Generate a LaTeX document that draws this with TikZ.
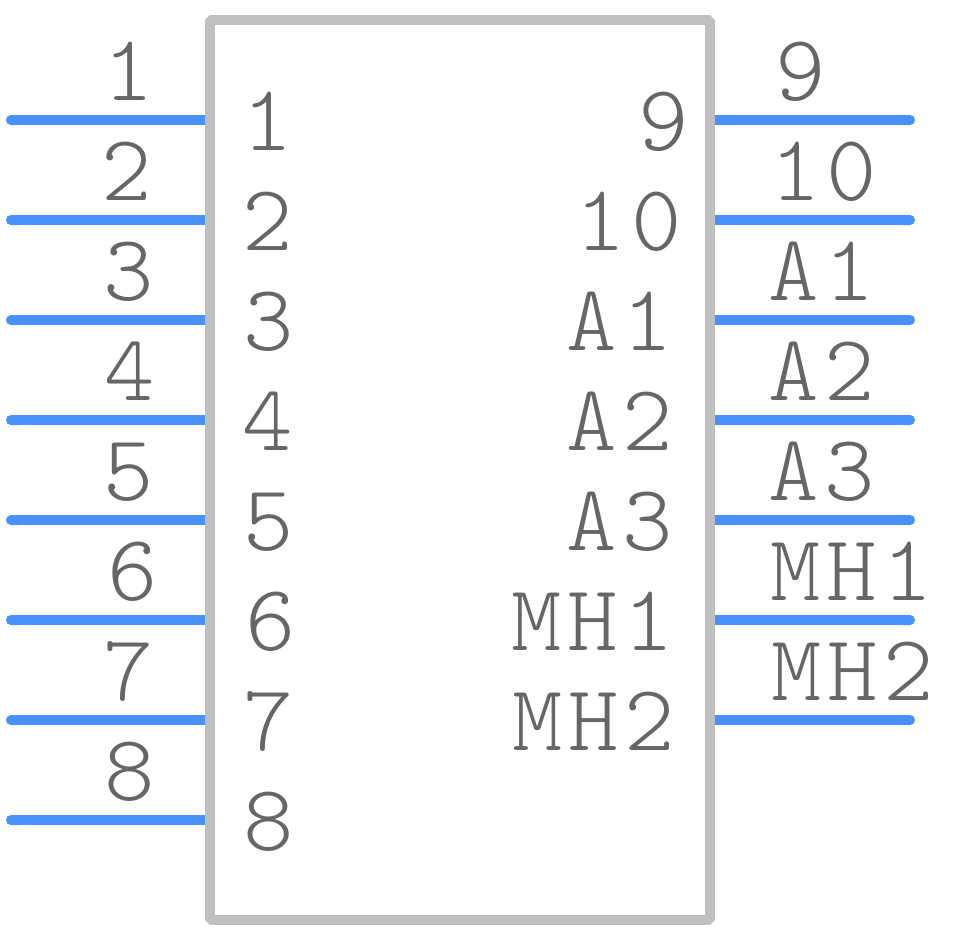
\documentclass[tikz,border=0pt]{standalone}
\usepackage{fontspec}
\setmonofont[FakeStretch=1.02,LetterSpace=6]{Latin Modern Mono Light}
\usetikzlibrary{positioning,arrows.meta}
\definecolor{pinblue}{HTML}{4891FD}
\definecolor{bodygray}{HTML}{BFBFBF}
\definecolor{textgray}{HTML}{666666}

\begin{document}
\begin{tikzpicture}
  [
    x=1pt, y=-1pt,
    body/.style={draw=bodygray, rectangle, line width=10pt, line join=bevel, minimum width=500pt, minimum height=900pt, inner sep=0pt},
    pin/.style={draw=pinblue, line width=10pt, {Round Cap[]}-},
    lab/.style={font=\fontsize{94}{94}\selectfont\ttfamily, text=textgray, inner sep=0pt, anchor=base, xshift=1pt},
  ]
  \useasboundingbox (0,0) rectangle (965,930);
  \node (box) [body] at (460,470) {};

  % left side pins
  \coordinate (p1) at (6,120);
  \coordinate (p2) at (6,220);
  \coordinate (p3) at (6,320);
  \coordinate (p4) at (6,420);
  \coordinate (p5) at (6,520);
  \coordinate (p6) at (6,620);
  \coordinate (p7) at (6,720);
  \coordinate (p8) at (6,820);

  % right side pins
  \coordinate (p9) at (915,120);
  \coordinate (p10) at (915,220);
  \coordinate (pa1) at (915,320);
  \coordinate (pa2) at (915,420);
  \coordinate (pa3) at (915,520);
  \coordinate (pm1) at (915,620);
  \coordinate (pm2) at (915,720);

  \draw [pin] (p1) -- (p1 -| box.west);
  \draw [pin] (p2) -- (p2 -| box.west);
  \draw [pin] (p3) -- (p3 -| box.west);
  \draw [pin] (p4) -- (p4 -| box.west);
  \draw [pin] (p5) -- (p5 -| box.west);
  \draw [pin] (p6) -- (p6 -| box.west);
  \draw [pin] (p7) -- (p7 -| box.west);
  \draw [pin] (p8) -- (p8 -| box.west);

  \draw [pin] (p9) -- (p9 -| box.east);
  \draw [pin] (p10) -- (p10 -| box.east);
  \draw [pin] (pa1) -- (pa1 -| box.east);
  \draw [pin] (pa2) -- (pa2 -| box.east);
  \draw [pin] (pa3) -- (pa3 -| box.east);
  \draw [pin] (pm1) -- (pm1 -| box.east);
  \draw [pin] (pm2) -- (pm2 -| box.east);

  % numbers above the pins
  \node (o1) [lab] at (128,100) {1};
  \node (o2) [lab] at (126,200) {2};
  \node (o3) [lab] at (128,300) {3};
  \node (o4) [lab] at (129,400) {4};
  \node (o5) [lab] at (128,500) {5};
  \node (o6) [lab] at (132,600) {6};
  \node (o7) [lab] at (128,700) {7};
  \node (o8) [lab] at (129,800) {8};

  \node (o9) [lab] at (800,100) {9};
  \node (o10) [lab] at (823,200) {10};
  \node (oa1) [lab] at (821,300) {A1};
  \node (oa2) [lab] at (821,400) {A2};
  \node (oa3) [lab] at (821,500) {A3};
  \node (om1) [lab] at (851,600) {MH1};
  \node (om2) [lab] at (852,700) {MH2};

  % names inside the body
  \node (i1) [lab] at (267,150) {1};
  \node (i2) [lab] at (267,250) {2};
  \node (i3) [lab] at (268,350) {3};
  \node (i4) [lab] at (267,450) {4};
  \node (i5) [lab] at (268,550) {5};
  \node (i6) [lab] at (270,650) {6};
  \node (i7) [lab] at (268,750) {7};
  \node (i8) [lab] at (268,850) {8};

  \node (i9) [lab] at (663,150) {9};
  \node (i10) [lab] at (628,250) {10};
  \node (ia1) [lab] at (619,350) {A1};
  \node (ia2) [lab] at (619,450) {A2};
  \node (ia3) [lab] at (619,550) {A3};
  \node (im1) [lab] at (592,650) {MH1};
  \node (im2) [lab] at (593,750) {MH2};
\end{tikzpicture}
\end{document}
